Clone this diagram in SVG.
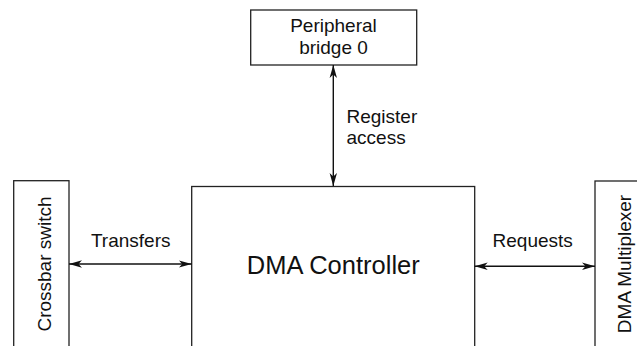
<svg xmlns="http://www.w3.org/2000/svg" width="637" height="346" viewBox="0 0 637 346">
<style>
.box{fill:#fff;stroke:#222;stroke-width:1.3}
.lbl{font-family:"Liberation Sans",Arial,sans-serif;font-size:19px;fill:#111}
.big{font-family:"Liberation Sans",Arial,sans-serif;font-size:25.5px;fill:#111}
.con{stroke:#111;stroke-width:1.4;fill:none;marker-start:url(#ah);marker-end:url(#ah)}
</style>
<defs>
<marker id="ah" markerUnits="userSpaceOnUse" markerWidth="14" markerHeight="9" refX="13" refY="4.5" orient="auto-start-reverse">
<path d="M0,0.8 L13,4.5 L0,8.2 L3.5,4.5 z" fill="#111"/>
</marker>
</defs>
<rect width="637" height="346" fill="#fff"/>
<g id="peripheral-bridge">
<rect class="box" x="250.7" y="10" width="166" height="55"/>
<text class="lbl" x="333.5" y="31.5" text-anchor="middle">Peripheral</text>
<text class="lbl" x="333.5" y="53.5" text-anchor="middle">bridge 0</text>
</g>
<g id="crossbar-switch">
<rect class="box" x="13.7" y="180.7" width="55.3" height="180"/>
<text class="lbl" transform="translate(50.5,264) rotate(-90)" text-anchor="middle">Crossbar switch</text>
</g>
<g id="dma-controller">
<rect class="box" x="191.7" y="186.5" width="283" height="180"/>
<text class="big" x="333.3" y="273.5" text-anchor="middle">DMA Controller</text>
</g>
<g id="dma-multiplexer">
<rect class="box" x="595" y="181" width="60" height="180"/>
<text class="lbl" transform="translate(630.5,264) rotate(-90)" text-anchor="middle">DMA Multiplexer</text>
</g>
<g id="connectors">
<line class="con" x1="333.3" y1="65" x2="333.3" y2="186"/>
<text class="lbl" x="346.5" y="123.3">Register</text>
<text class="lbl" x="346.5" y="143.5">access</text>
<line class="con" x1="69" y1="264" x2="191.7" y2="264"/>
<text class="lbl" x="130.7" y="247.3" text-anchor="middle">Transfers</text>
<line class="con" x1="474.7" y1="266.3" x2="595" y2="266.3"/>
<text class="lbl" x="532.7" y="247.3" text-anchor="middle">Requests</text>
</g>
</svg>
